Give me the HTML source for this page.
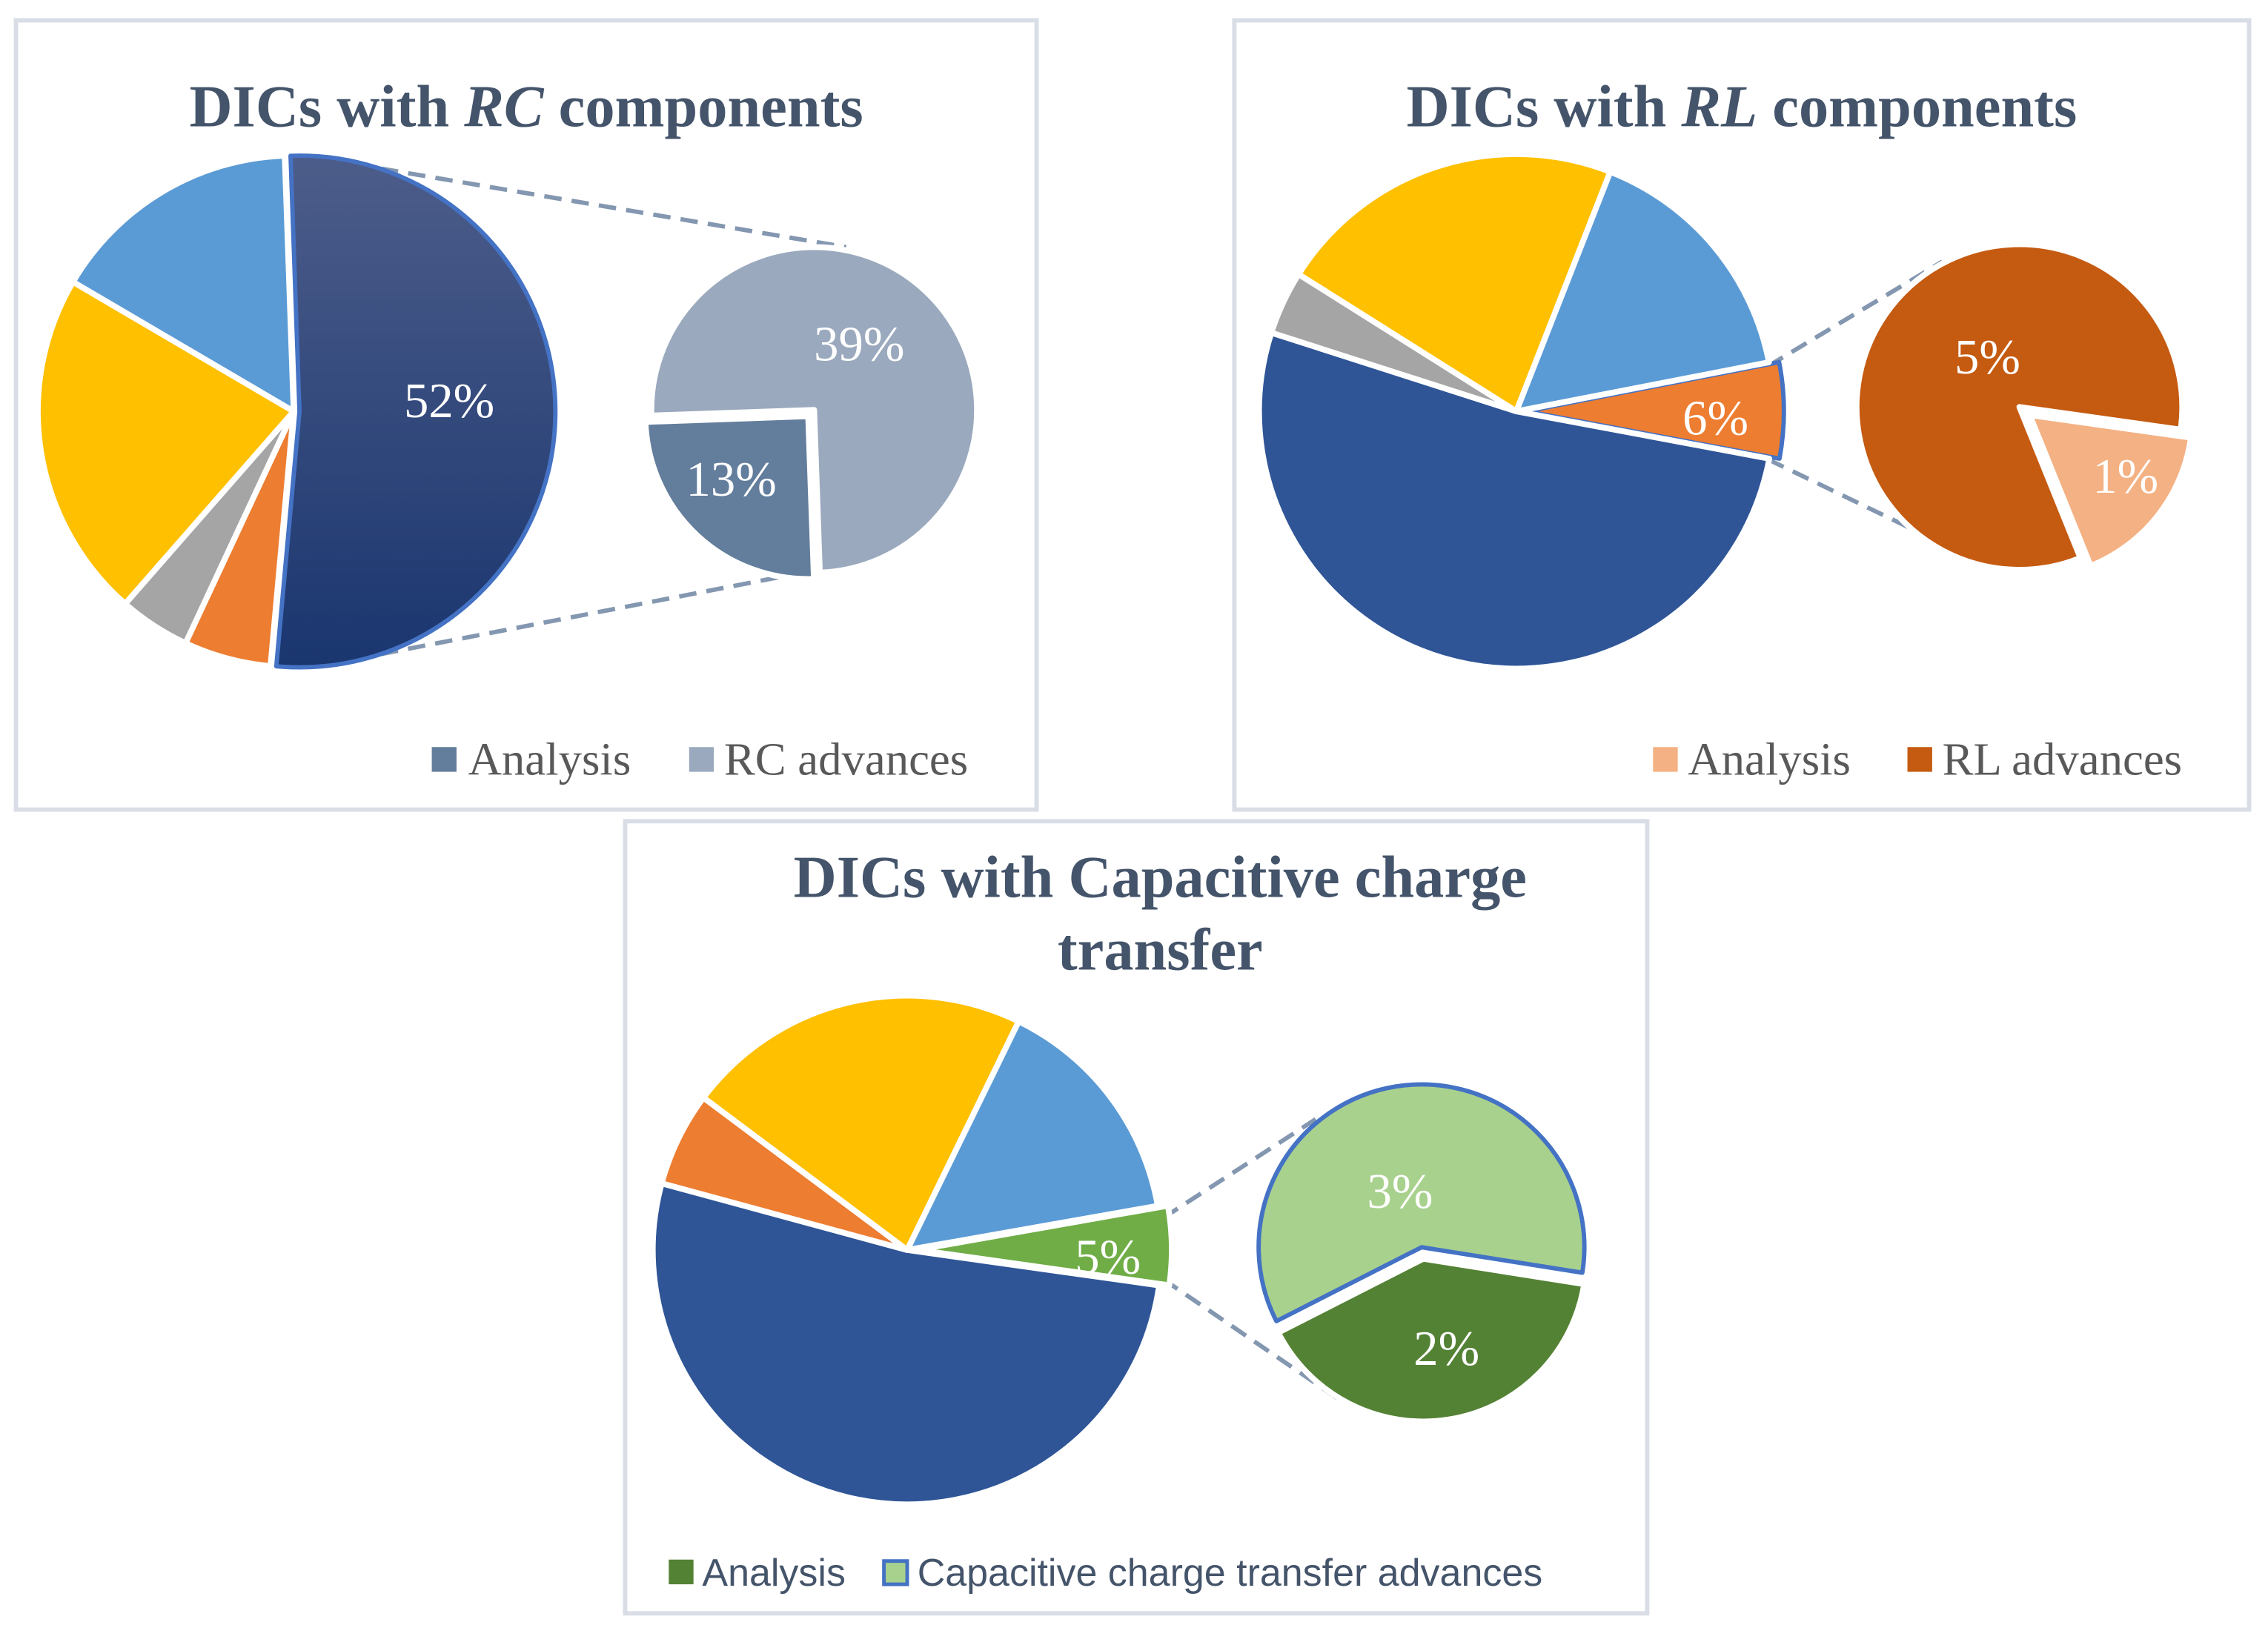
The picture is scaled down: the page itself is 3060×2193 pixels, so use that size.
<!DOCTYPE html>
<html><head><meta charset="utf-8">
<style>
html,body{margin:0;padding:0;background:#fff;}
svg{display:block;}
.title{font-family:"Liberation Serif",serif;font-weight:bold;font-size:41px;fill:#44546a;text-anchor:middle;}
.lbl{font-family:"Liberation Serif",serif;font-size:34px;fill:#fff;text-anchor:middle;}
.leg{font-family:"Liberation Serif",serif;font-size:32px;fill:#595959;}
.legs{font-family:"Liberation Sans",sans-serif;font-size:26.5px;fill:#44546a;}
</style></head>
<body>
<svg id="c" width="3060" height="2193" viewBox="0 0 1560 1118" xmlns="http://www.w3.org/2000/svg">
<defs>
<linearGradient id="g52" x1="0" y1="0" x2="0" y2="1">
<stop offset="0" stop-color="#4d5d8a"/><stop offset="1" stop-color="#1a366f"/>
</linearGradient>
</defs>
<rect x="11" y="14" width="702" height="543" fill="#fff" stroke="#d9dee6" stroke-width="3"/>
<rect x="849" y="14" width="698" height="543" fill="#fff" stroke="#d9dee6" stroke-width="3"/>
<rect x="430" y="565" width="703" height="545" fill="#fff" stroke="#d9dee6" stroke-width="3"/>
<text class="title" x="362" y="87">DICs with <tspan font-style="italic">RC</tspan> components</text>
<text class="title" x="1198" y="87">DICs with <tspan font-style="italic">RL</tspan> components</text>
<text class="title" x="798" y="617">DICs with Capacitive charge</text>
<text class="title" x="798" y="667">transfer</text>
<g id="marks"></g>
<rect x="297" y="514" width="17" height="17" fill="#637d9c"/>
<text class="leg" x="322" y="533">Analysis</text>
<rect x="474" y="514" width="17" height="17" fill="#9aa9bd"/>
<text class="leg" x="498" y="533">RC advances</text>
<rect x="1137" y="514" width="17" height="17" fill="#f4b183"/>
<text class="leg" x="1161" y="533">Analysis</text>
<rect x="1312" y="514" width="17" height="17" fill="#c55a11"/>
<text class="leg" x="1336" y="533">RL advances</text>
<rect x="460" y="1073" width="17" height="17" fill="#548235"/>
<text class="legs" x="483" y="1091">Analysis</text>
<rect x="608" y="1074" width="16" height="16" fill="#a9d18e" stroke="#4472c4" stroke-width="2.5"/>
<text class="legs" x="631" y="1091">Capacitive charge transfer advances</text>
</svg>
<script>
// RC chart data
const rcMainValues = [52, 5.5, 4.5, 22, 16];
const rcSubValues = [13, 39];
const rcSubLabels = ["13%", "39%"];
// RL chart data
const rlMainValues = [6, 52, 4, 22, 16];
const rlSubValues = [5, 1];
const rlSubLabels = ["5%", "1%"];
// Capacitive chart data
const cctMainValues = [5, 52, 6, 22, 15];
const cctSubValues = [2, 3];
const cctSubLabels = ["2%", "3%"];

const NS = "http://www.w3.org/2000/svg";
const g = document.getElementById('marks');
function pt(cx, cy, r, a) { const t = (a - 90) * Math.PI / 180; return [cx + r * Math.cos(t), cy + r * Math.sin(t)]; }
function slicePath(cx, cy, r, a0, a1) {
  const p0 = pt(cx, cy, r, a0), p1 = pt(cx, cy, r, a1);
  const large = (a1 - a0) > 180 ? 1 : 0;
  return `M${cx},${cy}L${p0[0]},${p0[1]}A${r},${r} 0 ${large} 1 ${p1[0]},${p1[1]}Z`;
}
function drawPie(vals, cx, cy, r, start, fills, explode, strokes, names) {
  const tot = vals.reduce((a, b) => a + b, 0);
  let a = start;
  vals.forEach((v, i) => {
    const span = v / tot * 360, a0 = a, a1 = a + span, mid = (a0 + a1) / 2;
    const e = explode[i] || 0;
    const o = pt(0, 0, e, mid);
    const p = document.createElementNS(NS, 'path');
    p.setAttribute('d', slicePath(cx + o[0], cy + o[1], r, a0, a1));
    p.setAttribute('fill', fills[i]);
    p.setAttribute('stroke', strokes[i] || '#fff');
    p.setAttribute('stroke-width', strokes[i] ? 3 : 4);
    p.setAttribute('stroke-linejoin', 'round');
    
    
    g.appendChild(p);
    a = a1;
  });
}
function label(txt, x, y, name) {
  const t = document.createElementNS(NS, 'text');
  t.setAttribute('x', x); t.setAttribute('y', y); t.setAttribute('class', 'lbl');
  t.textContent = txt;
  
  
  g.appendChild(t);
}
function dash(x1, y1, x2, y2, name) {
  const l = document.createElementNS(NS, 'line');
  l.setAttribute('x1', x1); l.setAttribute('y1', y1); l.setAttribute('x2', x2); l.setAttribute('y2', y2);
  l.setAttribute('stroke', '#8497b0'); l.setAttribute('stroke-width', 3); l.setAttribute('stroke-dasharray', '12 7');
  
  
  g.appendChild(l);
}
const mainFillsRC = ['url(#g52)', '#ed7d31', '#a5a5a5', '#ffc000', '#5b9bd5'];
dash(262, 116, 582, 170, 'connector-top-rc');
dash(262, 450, 552, 394, 'connector-bottom-rc');
drawPie(rcMainValues, 202, 283, 176, -2, mainFillsRC, [4, 0, 0, 0, 0], ['#4472c4'], ['slice-rc-other', 'slice-rc-orange', 'slice-rc-gray', 'slice-rc-yellow', 'slice-rc-blue']);
label(rcMainValues[0] + '%', 309, 287, 'label-rc-52');
drawPie(rcSubValues, 560, 282, 112, 178, ['#637d9c', '#9aa9bd'], [6, 0], [], ['slice-rc-analysis', 'slice-rc-advances']);
label(rcSubLabels[0], 503, 341, 'label-rc-analysis');
label(rcSubLabels[1], 591, 248, 'label-rc-advances');
dash(1216, 252, 1336, 180, 'connector-top-rl');
dash(1216, 316, 1336, 374, 'connector-bottom-rl');
drawPie(rlMainValues, 1043, 283, 177, 79, ['#ed7d31', '#2f5597', '#a5a5a5', '#ffc000', '#5b9bd5'], [7, 0, 0, 0, 0], ['#4472c4'], ['slice-rl-other', 'slice-rl-navy', 'slice-rl-gray', 'slice-rl-yellow', 'slice-rl-blue']);
label(rlMainValues[0] + '%', 1180, 299, 'label-rl-6');
drawPie(rlSubValues, 1389, 280, 112, 158, ['#c55a11', '#f4b183'], [0, 9], [], ['slice-rl-advances', 'slice-rl-analysis']);
label(rlSubLabels[0], 1367, 257, 'label-rl-advances');
label(rlSubLabels[1], 1462, 339, 'label-rl-analysis');
dash(800, 838, 905, 770, 'connector-top-cct');
dash(800, 880, 920, 962, 'connector-bottom-cct');
drawPie(cctMainValues, 624, 860, 175, 80, ['#70ad47', '#2f5597', '#ed7d31', '#ffc000', '#5b9bd5'], [7, 0, 0, 0, 0], [], ['slice-cct-other', 'slice-cct-navy', 'slice-cct-orange', 'slice-cct-yellow', 'slice-cct-blue']);
label(cctMainValues[0] + '%', 762, 876, 'label-cct-5');
drawPie(cctSubValues, 979, 866, 112, 99, ['#548235', '#a9d18e'], [0, 8], [null, '#4472c4'], ['slice-cct-analysis', 'slice-cct-advances']);
label(cctSubLabels[0], 995, 939, 'label-cct-analysis');
label(cctSubLabels[1], 963, 831, 'label-cct-advances');
</script>
</body></html>
